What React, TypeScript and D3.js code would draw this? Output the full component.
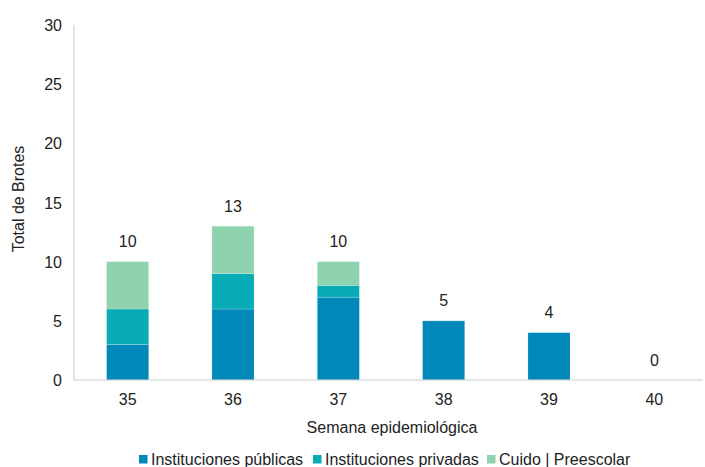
import React from "react";
import * as d3 from "d3";

const weeks = ["35", "36", "37", "38", "39", "40"];
const publicas = [3, 6, 7, 5, 4, 0];
const privadas = [3, 3, 1, 0, 0, 0];
const cuido = [4, 4, 2, 0, 0, 0];
const seriesNames = ["Instituciones públicas", "Instituciones privadas", "Cuido | Preescolar"];
const seriesColors = ["#0088b9", "#06abb6", "#8fd3ae"];
const yTicks = [0, 5, 10, 15, 20, 25, 30];

const W = 705, H = 467;
const axisX = 74, left = 75, right = 707, top = 25, bottom = 380;
const font = "'Liberation Sans', Arial, sans-serif";

export default function App() {
  const x = d3.scaleBand<string>().domain(weeks).range([left, right]).paddingInner(0.6).paddingOuter(0.3);
  const y = d3.scaleLinear().domain([0, 30]).range([bottom, top]);
  const table = weeks.map((w, i) => ({ week: w, p0: publicas[i], p1: privadas[i], p2: cuido[i] }));
  const stack = d3.stack<any>().keys(["p0", "p1", "p2"])(table);
  const totals = weeks.map((_, i) => publicas[i] + privadas[i] + cuido[i]);
  const legendX = [139, 313, 487];

  return (
    <div style={{ position: "fixed", left: 0, top: 0, width: W, height: H, overflow: "hidden" }}>
      <svg width={W} height={H} style={{ display: "block", fontFamily: font }}>
        <rect width={W} height={H} fill="#fff" />
        {stack.map((s, si) =>
          s.map((d, i) =>
            d[1] - d[0] > 0 ? (
              <rect
                key={`${si}-${i}`}
                x={x(weeks[i])!}
                width={x.bandwidth()}
                y={y(d[1])}
                height={y(d[0]) - y(d[1])}
                fill={seriesColors[si]}
                stroke="#ffffff"
                strokeOpacity={0.35}
                strokeWidth={0.6}
              />
            ) : null
          )
        )}
        <line x1={axisX} x2={axisX} y1={top} y2={bottom} stroke="#c9cdd1" strokeWidth={1} />
        <line x1={axisX} x2={703} y1={bottom} y2={bottom} stroke="#c9cdd1" strokeWidth={1} />
        {yTicks.map((t) => (
          <text key={t} x={62} y={y(t) + 6} textAnchor="end" fontSize={16} fill="#222">
            {t}
          </text>
        ))}
        {weeks.map((w) => (
          <text key={w} x={x(w)! + x.bandwidth() / 2} y={405} textAnchor="middle" fontSize={16} fill="#222">
            {w}
          </text>
        ))}
        {weeks.map((w, i) => (
          <text key={"t" + w} x={x(w)! + x.bandwidth() / 2} y={y(totals[i]) - 14.5} textAnchor="middle" fontSize={16} fill="#222">
            {totals[i]}
          </text>
        ))}
        <text x={392} y={433} textAnchor="middle" fontSize={16} fill="#222">
          Semana epidemiológica
        </text>
        <text transform={`translate(23.5, 199) rotate(-90)`} textAnchor="middle" fontSize={16} fill="#222">
          Total de Brotes
        </text>
        {seriesNames.map((n, i) => (
          <g key={n}>
            <rect x={legendX[i]} y={455} width={8.5} height={8.5} fill={seriesColors[i]} />
            <text x={legendX[i] + 12} y={465} fontSize={16} fill="#222">
              {n}
            </text>
          </g>
        ))}
      </svg>
    </div>
  );
}
